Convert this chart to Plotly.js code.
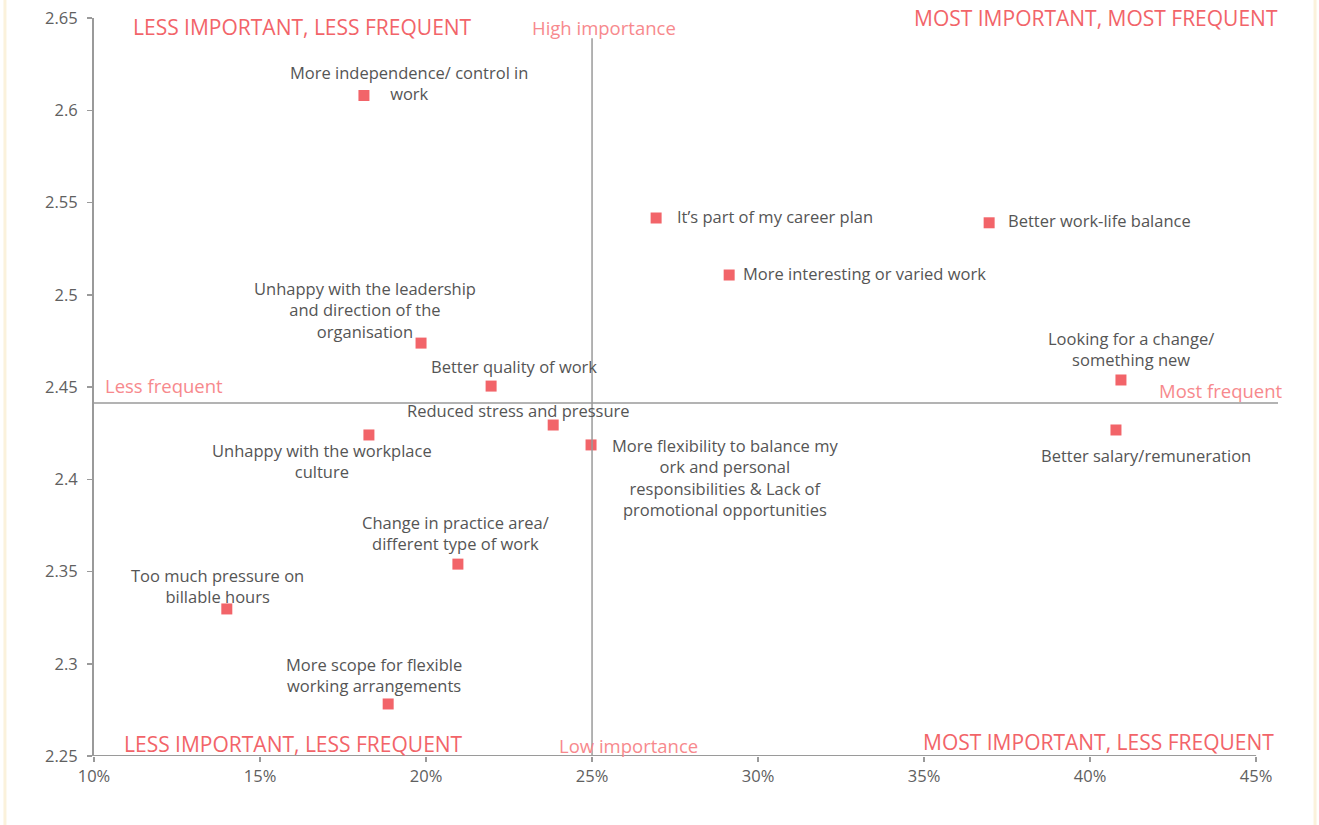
<!DOCTYPE html>
<html>
<head>
<meta charset="utf-8">
<script src="https://cdn.plot.ly/plotly-3.0.1.min.js"></script>
<style>html,body{margin:0;padding:0;background:#fff;}#chart{width:1319px;height:825px;}</style>
</head>
<body>
<div id="chart"></div>
<script>
// ---- data ----
const labels = [
  "More independence/ control in<br>work",
  "It’s part of my career plan",
  "Better work-life balance",
  "More interesting or varied work",
  "Unhappy with the leadership<br>and direction of the<br>organisation",
  "Better quality of work",
  "Looking for a change/<br>something new",
  "Better salary/remuneration",
  "Unhappy with the workplace<br>culture",
  "Reduced stress and pressure",
  "More flexibility to balance my<br>ork and personal<br>responsibilities &amp; Lack of<br>promotional opportunities",
  "Change in practice area/<br>different type of work",
  "Too much pressure on<br>billable hours",
  "More scope for flexible<br>working arrangements"
];
const importance = [0.1813, 0.2693, 0.3696, 0.2913, 0.1985, 0.2196, 0.4093, 0.4078, 0.1828, 0.2383, 0.2497, 0.2096, 0.1400, 0.1886];
const frequency  = [2.608, 2.5416, 2.539, 2.5107, 2.4738, 2.4505, 2.4538, 2.4267, 2.424, 2.4294, 2.4186, 2.354, 2.3297, 2.2782];
const xTickVals = [0.10, 0.15, 0.20, 0.25, 0.30, 0.35, 0.40, 0.45];
const xTickText = ["10%", "15%", "20%", "25%", "30%", "35%", "40%", "45%"];
const yTickVals = [2.25, 2.30, 2.35, 2.40, 2.45, 2.50, 2.55, 2.60, 2.65];
const yTickText = ["2.25", "2.3", "2.35", "2.4", "2.45", "2.5", "2.55", "2.6", "2.65"];
const midImportance = 0.25;
const midFrequency = 2.4413;

// ---- label placement (pixel offsets from marker) ----
const labelPlacement = [
  {dx: 45, dy: -12, anchor: "center"},
  {dx: 19, dy: -2, anchor: "left"},
  {dx: 17, dy: -2, anchor: "left"},
  {dx: 12, dy: -2, anchor: "left"},
  {dx: -56, dy: -33, anchor: "center"},
  {dx: 23, dy: -20, anchor: "center"},
  {dx: 10, dy: -31, anchor: "center"},
  {dx: 30, dy: 26, anchor: "center"},
  {dx: -47, dy: 26, anchor: "center"},
  {dx: -35, dy: -15, anchor: "center"},
  {dx: 134, dy: 33, anchor: "center"},
  {dx: -2, dy: -31, anchor: "center"},
  {dx: -9, dy: -23, anchor: "center"},
  {dx: -14, dy: -29, anchor: "center"}
];

const FONT = "'Open Sans', sans-serif";
const textGrey = "#555555";
const tickGrey = "#606060";
const red = "#f26469";
const pink = "#f7898d";
const axisGrey = "#9a9a9a";

const trace = {
  type: "scatter",
  mode: "markers",
  x: importance,
  y: frequency,
  marker: {symbol: "square", size: 11, color: red},
  hoverinfo: "skip",
  showlegend: false
};

const annotations = labels.map((t, i) => ({
  x: importance[i], y: frequency[i], xref: "x", yref: "y",
  text: t, showarrow: false,
  xanchor: labelPlacement[i].anchor, yanchor: "middle",
  align: "center",
  xshift: labelPlacement[i].dx, yshift: -labelPlacement[i].dy,
  font: {family: FONT, size: 16.5, color: textGrey}
}));

function corner(text, x, y, size, color) {
  return {xref: "paper", yref: "paper", x: x, y: y, text: text, showarrow: false,
    xanchor: "center", yanchor: "middle", font: {family: FONT, size: size, color: color}};
}
annotations.push(corner("LESS IMPORTANT, LESS FREQUENT", 0.1757, 0.9878, 21, red));
annotations.push(corner("MOST IMPORTANT, MOST FREQUENT", 0.8463, 1.0, 21, red));
annotations.push(corner("LESS IMPORTANT, LESS FREQUENT", 0.1689, 0.0163, 21, red));
annotations.push(corner("MOST IMPORTANT, LESS FREQUENT", 0.8484, 0.019, 21, red));
annotations.push(corner("High importance", 0.4307, 0.9878, 18.5, pink));
annotations.push(corner("Low importance", 0.4514, 0.0149, 18.5, pink));
annotations.push(corner("Less frequent", 0.0587, 0.5027, 18.5, pink));
annotations.push(corner("Most frequent", 0.9519, 0.4946, 18.5, pink));

const shapes = [
  // x axis line
  {type: "line", xref: "x", yref: "y", x0: 0.10, x1: 0.45, y0: 2.25, y1: 2.25, line: {color: axisGrey, width: 2}},
  // vertical mid line
  {type: "line", xref: "x", yref: "y", x0: midImportance, x1: midImportance, y0: 2.25, y1: 2.639, line: {color: axisGrey, width: 1.5}},
  // horizontal mid line
  {type: "line", xref: "paper", yref: "y", x0: 0, x1: 1, y0: midFrequency, y1: midFrequency, line: {color: axisGrey, width: 1.5}},
  // cream frame
  {type: "line", xref: "paper", yref: "paper", x0: -0.0752, x1: -0.0752, y0: -0.2, y1: 1.2, line: {color: "#fbf2dc", width: 3}},
  {type: "line", xref: "paper", yref: "paper", x0: 1.0313, x1: 1.0313, y0: -0.2, y1: 1.2, line: {color: "#fbf2dc", width: 3}}
];

const layout = {
  width: 1319, height: 825,
  margin: {l: 94, r: 41, t: 18, b: 69},
  paper_bgcolor: "#ffffff", plot_bgcolor: "#ffffff",
  font: {family: FONT, color: textGrey},
  xaxis: {
    range: [0.10, 0.4566], tickvals: xTickVals, ticktext: xTickText,
    showgrid: false, zeroline: false, showline: false,
    ticks: "outside", ticklen: 5, tickwidth: 1.5, tickcolor: axisGrey,
    tickfont: {family: FONT, size: 16.5, color: tickGrey}
  },
  yaxis: {
    range: [2.25, 2.65], tickvals: yTickVals, ticktext: yTickText,
    showgrid: false, zeroline: false, showline: true, linecolor: axisGrey, linewidth: 2,
    ticks: "outside", ticklen: 5, tickwidth: 1.5, tickcolor: axisGrey,
    ticklabelstandoff: 6,
    tickfont: {family: FONT, size: 16.5, color: tickGrey}
  },
  annotations: annotations,
  shapes: shapes,
  showlegend: false
};

Plotly.newPlot("chart", [trace], layout, {displayModeBar: false, staticPlot: true});
</script>
</body>
</html>
